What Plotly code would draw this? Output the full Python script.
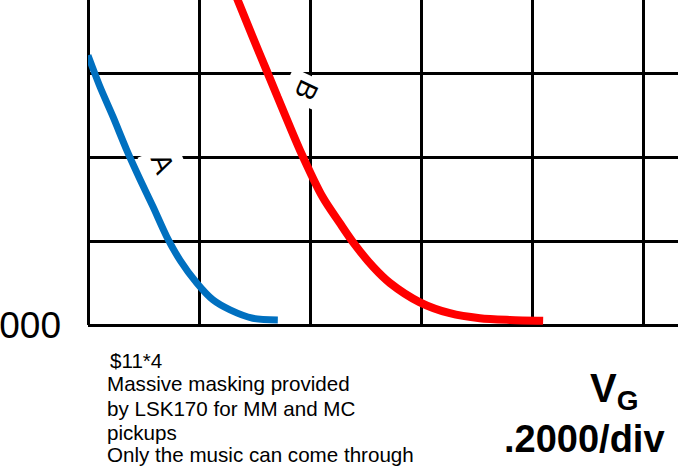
import plotly.graph_objects as go

# curve A (blue), x in volts, y in divisions
a_x = [0.000, 0.022, 0.045, 0.070, 0.094, 0.117, 0.142, 0.166, 0.196, 0.225, 0.256, 0.297, 0.342]
a_y = [3.21, 2.83, 2.48, 2.08, 1.73, 1.41, 1.05, 0.77, 0.50, 0.30, 0.18, 0.08, 0.06]

# curve B (red)
b_x = [0.261, 0.296, 0.323, 0.355, 0.382, 0.423, 0.454, 0.478, 0.514, 0.544, 0.598,
       0.652, 0.706, 0.760, 0.820]
b_y = [4.01, 3.44, 3.01, 2.50, 2.08, 1.52, 1.21, 0.98, 0.69, 0.50, 0.27,
       0.14, 0.08, 0.06, 0.05]

y_ticks = [0, 1, 2, 3]
y_ticktext = ["0.000", "", "", ""]
x_ticks = [0, 0.2, 0.4, 0.6, 0.8, 1.0]

note_lines = [
    "$11*4",
    "Massive masking provided",
    "by LSK170 for MM and MC",
    "pickups",
    "Only the music can come through",
]

fig = go.Figure()

# curve labels with white boxes over the grid
fig.add_annotation(x=0.134, y=1.92, text="A", textangle=68, showarrow=False,
                   bgcolor="white", borderpad=5,
                   font=dict(family="Liberation Sans", size=28, color="black"))
fig.add_annotation(x=0.393, y=2.80, text="B", textangle=115, showarrow=False,
                   bgcolor="white", borderpad=5,
                   font=dict(family="Liberation Sans", size=28, color="black"))

fig.add_trace(go.Scatter(x=a_x, y=a_y, mode="lines", name="A",
                         line=dict(color="#0070C0", width=7, shape="spline", smoothing=0.8)))
fig.add_trace(go.Scatter(x=b_x, y=b_y, mode="lines", name="B",
                         line=dict(color="#FF0000", width=8, shape="spline", smoothing=0.8)))

# notes under the grid
note_y = [360, 384, 408, 432, 454]
note_x = [108, 105, 105, 105, 105]
for txt, py, px in zip(note_lines, note_y, note_x):
    fig.add_annotation(xref="paper", yref="paper",
                       x=(px - 88) / 590, y=(325 - py) / 325,
                       xanchor="left", yanchor="middle", text=txt, showarrow=False,
                       font=dict(family="Liberation Sans", size=20.6, color="black"))

fig.add_annotation(xref="paper", yref="paper", x=(614 - 88) / 590, y=(325 - 391) / 325,
                   text="<b>V<sub>G</sub></b>", showarrow=False, xanchor="center",
                   yanchor="middle",
                   font=dict(family="Liberation Sans", size=40, color="black"))
fig.add_annotation(xref="paper", yref="paper", x=(584 - 88) / 590, y=(325 - 439) / 325,
                   text="<b>.2000/div</b>", showarrow=False, xanchor="center",
                   yanchor="middle",
                   font=dict(family="Liberation Sans", size=38, color="black"))

fig.update_xaxes(range=[0, 1.063], tickmode="array", tickvals=x_ticks,
                 showticklabels=False, automargin=False,
                 showgrid=True, gridcolor="black", gridwidth=3,
                 zeroline=True, zerolinecolor="black", zerolinewidth=3)
fig.update_yaxes(range=[0, 3.869], tickmode="array", tickvals=y_ticks,
                 ticktext=y_ticktext, ticklabelstandoff=26, automargin=False,
                 tickfont=dict(family="Liberation Sans", size=37, color="black"),
                 showgrid=True, gridcolor="black", gridwidth=3,
                 zeroline=True, zerolinecolor="black", zerolinewidth=3)
fig.update_layout(width=678, height=476, showlegend=False,
                  margin=dict(l=88, r=0, t=0, b=151),
                  plot_bgcolor="white", paper_bgcolor="white")

fig.write_html("out.html", config={"displayModeBar": False},
               post_script="document.body.style.margin='0';")
